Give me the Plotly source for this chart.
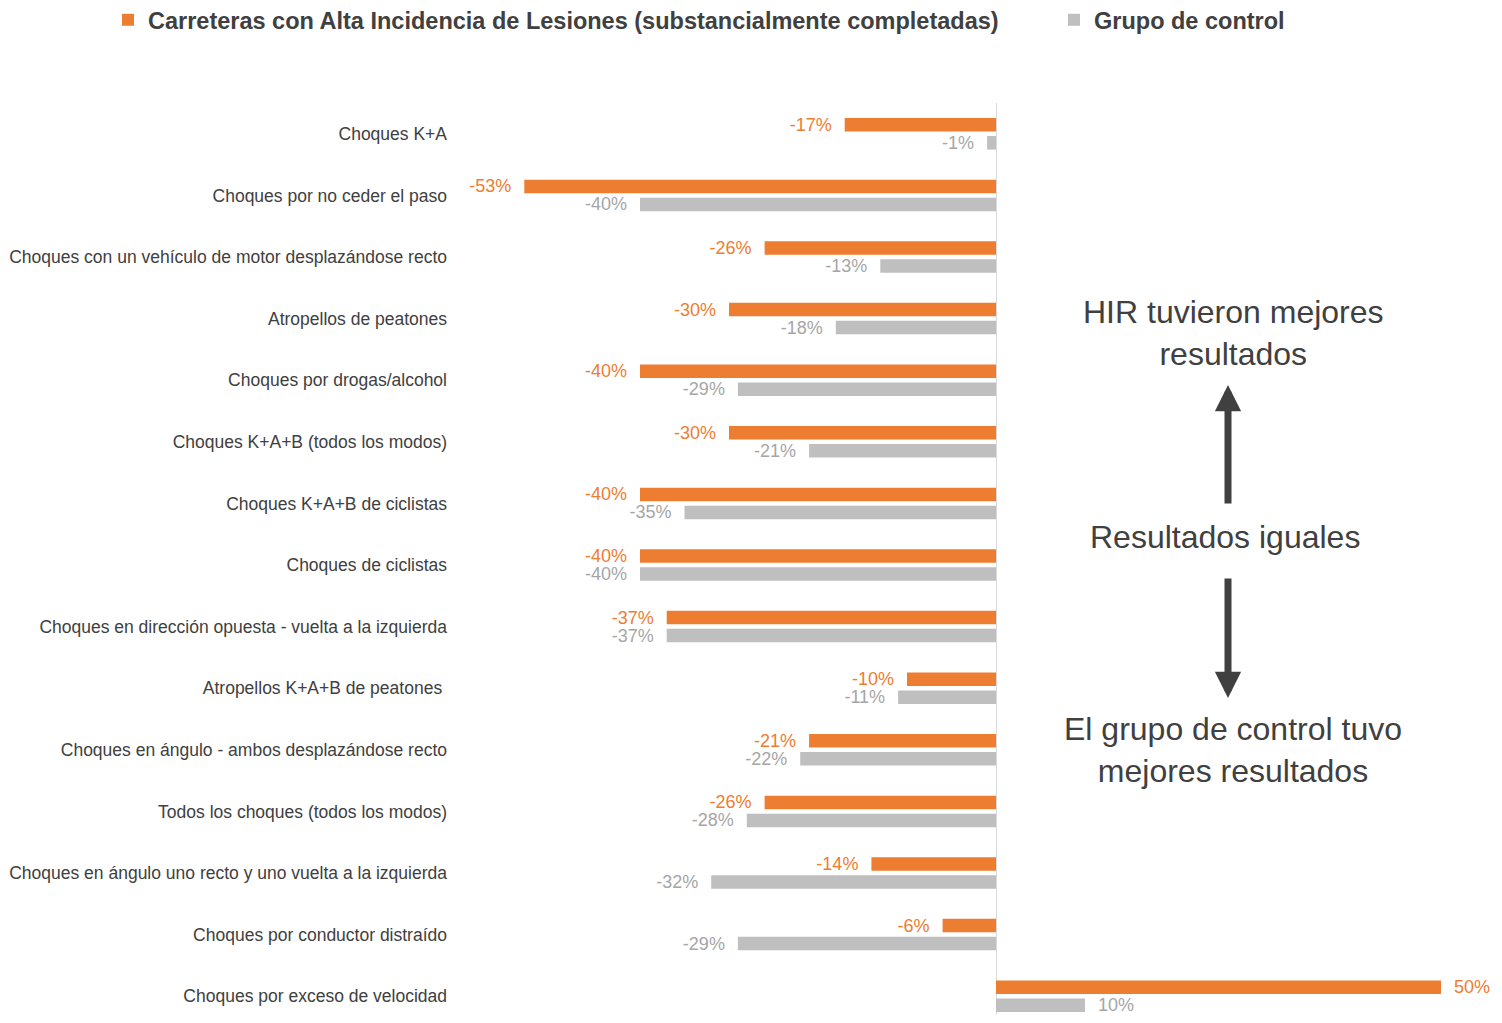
import plotly.graph_objects as go

categories = [
    "Choques K+A",
    "Choques por no ceder el paso",
    "Choques con un vehículo de motor desplazándose recto",
    "Atropellos de peatones",
    "Choques por drogas/alcohol",
    "Choques K+A+B (todos los modos)",
    "Choques K+A+B de ciclistas",
    "Choques de ciclistas",
    "Choques en dirección opuesta - vuelta a la izquierda",
    "Atropellos K+A+B de peatones\u00a0",
    "Choques en ángulo - ambos desplazándose recto",
    "Todos los choques (todos los modos)",
    "Choques en ángulo uno recto y uno vuelta a la izquierda",
    "Choques por conductor distraído",
    "Choques por exceso de velocidad",
]
hir_values = [-17, -53, -26, -30, -40, -30, -40, -40, -37, -10, -21, -26, -14, -6, 50]
control_values = [-1, -40, -13, -18, -29, -21, -35, -40, -37, -11, -22, -28, -32, -29, 10]

series_names = [
    "Carreteras con Alta Incidencia de Lesiones (substancialmente completadas)",
    "Grupo de control",
]

ORANGE = "#ED7D31"
GRAY = "#BFBFBF"
GRAY_TEXT = "#A6A6A6"
DARK = "#404040"
SANS = "Liberation Sans, Arial, sans-serif"


def labels(vals):
    out = []
    for v in vals:
        if v < 0:
            out.append(f"{v}%\u00a0\u00a0")
        else:
            out.append(f"\u00a0\u00a0{v}%")
    return out


fig = go.Figure()
fig.add_trace(go.Bar(
    y=categories, x=hir_values, orientation="h", name=series_names[0],
    marker=dict(color=ORANGE, line=dict(width=0)),
    text=labels(hir_values), textposition="outside", cliponaxis=False,
    constraintext="none",
    textfont=dict(family=SANS, size=18, color=ORANGE),
    hoverinfo="skip", legend="legend",
))
fig.add_trace(go.Bar(
    y=categories, x=control_values, orientation="h", name=series_names[1],
    marker=dict(color=GRAY, line=dict(width=0)),
    text=labels(control_values), textposition="outside", cliponaxis=False,
    constraintext="none",
    textfont=dict(family=SANS, size=18, color=GRAY_TEXT),
    hoverinfo="skip", legend="legend2",
))

# page has an 8px body margin; layout below is expressed in page pixels
OFF = 8
W, H = 1502 - 2 * OFF, 1023 - 2 * OFF
PLOT_LEFT, PLOT_TOP, PLOT_RIGHT, PLOT_BOTTOM = 460, 103, 1494, 1015
L = PLOT_LEFT - OFF
T = PLOT_TOP - OFF
R = W - (PLOT_RIGHT - OFF)
B = H - (PLOT_BOTTOM - OFF)
pw, ph = W - L - R, H - T - B
ZERO_X = 996
PX_PER_UNIT = 8.9
ROW_PITCH = 61.6


def px(xpage):
    return (xpage - PLOT_LEFT) / pw


def py(ypage):
    return (PLOT_BOTTOM - ypage) / ph


ann = []
for text, xp, yp in [
    ("HIR tuvieron mejores<br>resultados", 1233, 333),
    ("Resultados iguales", 1225, 537),
    ("El grupo de control tuvo<br>mejores resultados", 1233, 750),
]:
    ann.append(dict(
        text=text, x=px(xp), y=py(yp), xref="paper", yref="paper",
        xanchor="center", yanchor="middle", showarrow=False, align="center",
        font=dict(family=SANS, size=32, color=DARK),
    ))
ann.append(dict(x=px(1228), y=py(385), xref="paper", yref="paper", text="",
                showarrow=True, ax=0, ay=120, axref="pixel", ayref="pixel",
                arrowhead=2, arrowsize=0.75, arrowwidth=7, arrowcolor=DARK))
ann.append(dict(x=px(1228), y=py(698), xref="paper", yref="paper", text="",
                showarrow=True, ax=0, ay=-121, axref="pixel", ayref="pixel",
                arrowhead=2, arrowsize=0.75, arrowwidth=7, arrowcolor=DARK))

legend_common = dict(
    orientation="h", xref="paper", yref="paper",
    xanchor="left", yanchor="middle",
    font=dict(family=SANS, size=23.5, color=DARK, weight="bold"),
    itemclick=False, itemdoubleclick=False, bgcolor="rgba(0,0,0,0)",
)

fig.update_layout(
    width=W, height=H,
    margin=dict(l=L, r=R, t=T, b=B, autoexpand=False),
    paper_bgcolor="white", plot_bgcolor="white",
    barmode="group", bargap=0.415, bargroupgap=0.25,
    showlegend=True,
    legend=dict(x=px(108), y=py(20), **legend_common),
    legend2=dict(x=px(1054), y=py(20), **legend_common),
    xaxis=dict(
        range=[(PLOT_LEFT - ZERO_X) / PX_PER_UNIT, (PLOT_RIGHT - ZERO_X) / PX_PER_UNIT],
        showgrid=False, showticklabels=False, ticks="",
        zeroline=True, zerolinecolor="#D9D9D9", zerolinewidth=1,
        fixedrange=True,
    ),
    yaxis=dict(
        type="category", range=[-0.5 + ph / ROW_PITCH, -0.5],
        showgrid=False, ticks="", ticklabelstandoff=12,
        tickfont=dict(family=SANS, size=17.5, color=DARK),
        automargin=False, fixedrange=True,
    ),
    annotations=ann,
)

fig.write_html("out.html")
